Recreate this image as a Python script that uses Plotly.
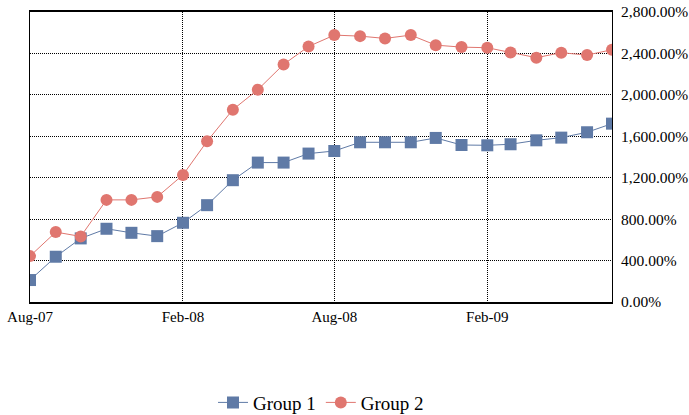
import pandas as pd
import plotly.graph_objects as go

# Meses (Aug-07 a Jul-09)
months = pd.date_range("2007-08-01", "2009-07-01", freq="MS")

group1 = [212, 437, 614, 707, 668, 636, 765, 935, 1176, 1346, 1346, 1433,
          1458, 1542, 1542, 1542, 1584, 1516, 1513, 1523, 1561, 1587, 1639, 1722]
group2 = [443, 675, 633, 986, 986, 1015, 1227, 1552, 1857, 2050, 2294, 2467,
          2577, 2567, 2545, 2577, 2480, 2461, 2455, 2410, 2359, 2407, 2384, 2436]

x_ticks = ["2007-08-01", "2008-02-01", "2008-08-01", "2009-02-01"]
x_labels = ["Aug-07", "Feb-08", "Aug-08", "Feb-09"]
y_ticks = [0, 400, 800, 1200, 1600, 2000, 2400, 2800]
y_labels = ["0.00%", "400.00%", "800.00%", "1,200.00%", "1,600.00%",
            "2,000.00%", "2,400.00%", "2,800.00%"]

fig = go.Figure()
fig.add_trace(go.Scatter(
    x=months, y=group1, name="Group 1", mode="lines+markers",
    line=dict(color="#5f7aa6", width=1),
    marker=dict(symbol="square", size=12, color="#5f7aa6"),
))
fig.add_trace(go.Scatter(
    x=months, y=group2, name="Group 2", mode="lines+markers",
    line=dict(color="#e0766f", width=1),
    marker=dict(symbol="circle", size=12, color="#e0766f"),
))

fig.update_layout(
    width=689, height=415,
    margin=dict(l=30, r=77, t=12, b=113),
    plot_bgcolor="white", paper_bgcolor="white",
    font=dict(family="Liberation Serif", size=15.5, color="black"),
    # legenda em coordenadas do container para não empurrar a margem
    legend=dict(orientation="h", x=0.5, xanchor="center",
                yref="container", y=0.03, yanchor="middle",
                font=dict(size=19)),
    xaxis=dict(
        range=["2007-08-01", "2009-07-01"],
        tickvals=x_ticks, ticktext=x_labels, tickfont=dict(size=15),
        showgrid=True, gridcolor="black", griddash="1px,1px", gridwidth=1,
        showline=True, linecolor="black", linewidth=2, mirror=True,
        zeroline=False, ticks="", automargin=False,
    ),
    yaxis=dict(
        range=[0, 2800], side="right",
        tickvals=y_ticks, ticktext=y_labels,
        showgrid=True, gridcolor="black", griddash="1px,1px", gridwidth=1,
        showline=True, linecolor="black", linewidth=1, mirror=True,
        zeroline=False, ticks="outside", ticklen=5, tickcolor="rgba(0,0,0,0)",
        automargin=False,
    ),
)

# sem margem no body da página
fig.write_html(
    "out.html",
    config={"displayModeBar": False},
    post_script="document.body.style.margin='0px';"
                "document.documentElement.style.overflow='hidden';",
)
